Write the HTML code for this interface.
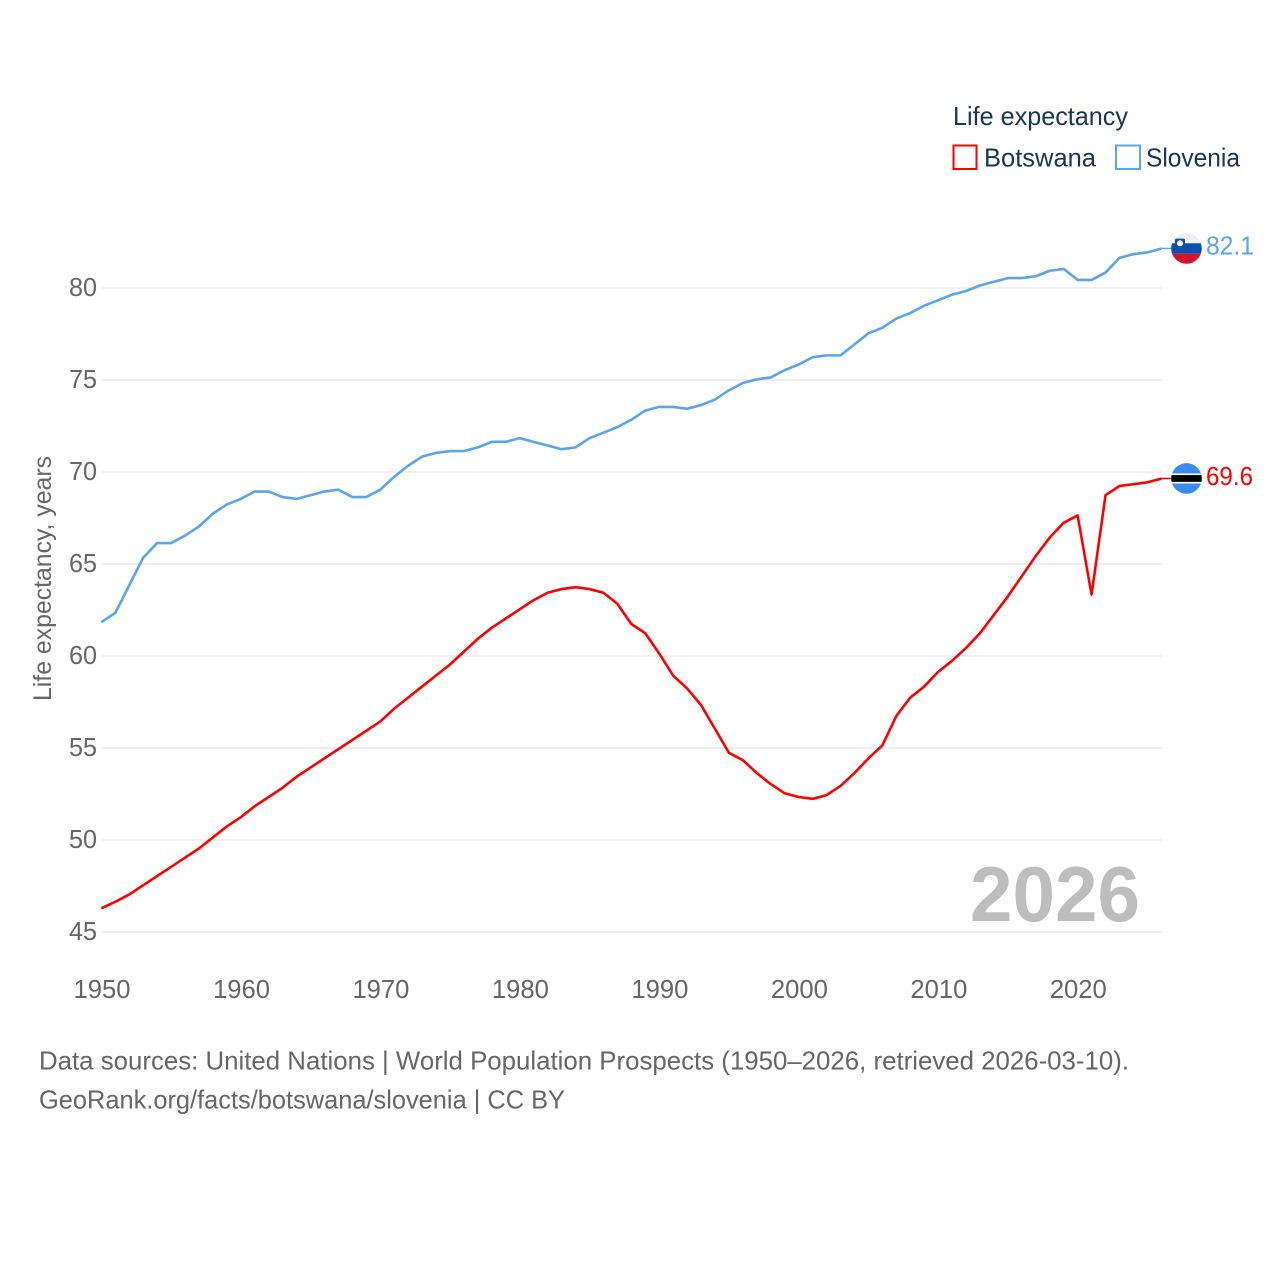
<!DOCTYPE html>
<html lang="en">
<head>
<meta charset="utf-8">
<title>Life expectancy: Botswana and Slovenia</title>
<style>
  html, body { margin: 0; padding: 0; background: #fff; }
  svg { display: block; font-family: "Liberation Sans", sans-serif; }
</style>
</head>
<body>
<svg id="chart" width="1280" height="1280" viewBox="0 0 1280 1280" xmlns="http://www.w3.org/2000/svg">
  <defs>
    <clipPath id="clip-si"><circle id="clip-si-c" r="15.3"></circle></clipPath>
    <clipPath id="clip-bw"><circle id="clip-bw-c" r="15.3"></circle></clipPath>
  </defs>
  <rect width="1280" height="1280" fill="#fff"></rect>

  <g id="grid"></g>
  <g id="y-ticks"></g>
  <g id="x-ticks"></g>

  <text transform="translate(51 701) rotate(-90)" font-size="25" fill="#666" textLength="245" lengthAdjust="spacingAndGlyphs">Life expectancy, years</text>

  <text x="970" y="921" font-size="78" font-weight="700" fill="#bdbdbd" textLength="170" lengthAdjust="spacingAndGlyphs">2026</text>

  <g id="series" transform="translate(-0.7 -0.7)"></g>
  <g id="ends"></g>

  <g>
    <text x="953" y="125" font-size="26" fill="#1a3558" textLength="175" lengthAdjust="spacingAndGlyphs">Life expectancy</text>
    <g>
      <rect x="953.5" y="145.5" width="23" height="23.5" fill="none" stroke="#ff0000" stroke-width="2"></rect>
      <text x="984" y="166.5" font-size="26" fill="#1a3558" textLength="112" lengthAdjust="spacingAndGlyphs">Botswana</text>
    </g>
    <g>
      <rect x="1116" y="145.5" width="24" height="23.5" fill="none" stroke="#5ba4ee" stroke-width="2"></rect>
      <text x="1146" y="166.5" font-size="26" fill="#1a3558" textLength="94" lengthAdjust="spacingAndGlyphs">Slovenia</text>
    </g>
  </g>

  <g>
    <text x="39" y="1069.5" font-size="26" fill="#666" textLength="1090" lengthAdjust="spacingAndGlyphs">Data sources: United Nations | World Population Prospects (1950–2026, retrieved 2026-03-10).</text>
    <text x="39" y="1108.5" font-size="26" fill="#666" textLength="526" lengthAdjust="spacingAndGlyphs">GeoRank.org/facts/botswana/slovenia | CC BY</text>
  </g>
</svg>

<script>
const years = [1950,1951,1952,1953,1954,1955,1956,1957,1958,1959,1960,1961,1962,1963,1964,1965,1966,1967,1968,1969,1970,1971,1972,1973,1974,1975,1976,1977,1978,1979,1980,1981,1982,1983,1984,1985,1986,1987,1988,1989,1990,1991,1992,1993,1994,1995,1996,1997,1998,1999,2000,2001,2002,2003,2004,2005,2006,2007,2008,2009,2010,2011,2012,2013,2014,2015,2016,2017,2018,2019,2020,2021,2022,2023,2024,2025,2026];
const botswana = [46.25,46.6,47.0,47.5,48.0,48.5,49.0,49.5,50.1,50.7,51.2,51.8,52.3,52.8,53.4,53.9,54.4,54.9,55.4,55.9,56.4,57.1,57.7,58.3,58.9,59.5,60.2,60.9,61.5,62.0,62.5,63.0,63.4,63.6,63.7,63.6,63.4,62.8,61.7,61.2,60.1,58.9,58.2,57.3,56.0,54.7,54.3,53.6,53.0,52.5,52.3,52.2,52.4,52.9,53.6,54.4,55.1,56.7,57.7,58.3,59.1,59.7,60.4,61.2,62.2,63.2,64.3,65.4,66.4,67.2,67.6,63.3,68.7,69.2,69.3,69.4,69.6];
const slovenia = [61.8,62.3,63.8,65.3,66.1,66.1,66.5,67.0,67.7,68.2,68.5,68.9,68.9,68.6,68.5,68.7,68.9,69.0,68.6,68.6,69.0,69.7,70.3,70.8,71.0,71.1,71.1,71.3,71.6,71.6,71.8,71.6,71.4,71.2,71.3,71.8,72.1,72.4,72.8,73.3,73.5,73.5,73.4,73.6,73.9,74.4,74.8,75.0,75.1,75.5,75.8,76.2,76.3,76.3,76.9,77.5,77.8,78.3,78.6,79.0,79.3,79.6,79.8,80.1,80.3,80.5,80.5,80.6,80.9,81.0,80.4,80.4,80.8,81.6,81.8,81.9,82.1];
const yTickValues = [45,50,55,60,65,70,75,80];
const xTickValues = [1950,1960,1970,1980,1990,2000,2010,2020];

const NS = 'http://www.w3.org/2000/svg';
const plotLeft = 102, plotRight = 1162, plotTop = 288, plotBottom = 932;
const xDomain = [1950, 2026], yDomain = [45, 80];
function xScale(v) { return plotLeft + (v - xDomain[0]) * (plotRight - plotLeft) / (xDomain[1] - xDomain[0]); }
function yScale(v) { return plotBottom - (v - yDomain[0]) * (plotBottom - plotTop) / (yDomain[1] - yDomain[0]); }
function mk(tag, parent, attrs) {
  const el = document.createElementNS(NS, tag);
  for (const k in attrs) el.setAttribute(k, attrs[k]);
  parent.appendChild(el);
  return el;
}
function linePoints(values) {
  return values.map(function (v, i) { return xScale(years[i]).toFixed(2) + ',' + yScale(v).toFixed(2); }).join(' ');
}

const gridG = document.getElementById('grid');
const yG = document.getElementById('y-ticks');
yTickValues.forEach(function (v) {
  const gl = mk('line', gridG, { x1: plotLeft, x2: plotRight, y1: yScale(v), y2: yScale(v), stroke: '#eeeeee', 'stroke-width': 1.8 });
  
  
  const t = mk('text', yG, { x: 97, y: yScale(v) + 8, 'text-anchor': 'end', 'font-size': 26, fill: '#666', textLength: 28, lengthAdjust: 'spacingAndGlyphs' });
  t.textContent = String(v);
  
  
});

const xG = document.getElementById('x-ticks');
xTickValues.forEach(function (v) {
  const t = mk('text', xG, { x: xScale(v), y: 998, 'text-anchor': 'middle', 'font-size': 26, fill: '#666', textLength: 57, lengthAdjust: 'spacingAndGlyphs' });
  t.textContent = String(v);
  
  
});

const seriesG = document.getElementById('series');
const slLine = mk('polyline', seriesG, { points: linePoints(slovenia), fill: 'none', stroke: '#5ba4ee', 'stroke-width': 2.6, 'stroke-linejoin': 'round' });


const bwLine = mk('polyline', seriesG, { points: linePoints(botswana), fill: 'none', stroke: '#ff0000', 'stroke-width': 2.6, 'stroke-linejoin': 'round' });



const endsG = document.getElementById('ends');
const flagX = 1186.5;

// Slovenia end marker
const siLast = slovenia[slovenia.length - 1];
const siY = yScale(siLast) - 0.9;
const siConn = mk('line', endsG, { x1: plotRight - 1, x2: flagX - 15, y1: siY, y2: siY, stroke: '#5ba4ee', 'stroke-width': 1.5 });


document.getElementById('clip-si-c').setAttribute('cx', flagX);
document.getElementById('clip-si-c').setAttribute('cy', siY);
const siFlag = mk('g', endsG, { 'clip-path': 'url(#clip-si)' });


mk('rect', siFlag, { x: flagX - 16, y: siY - 16, width: 32, height: 11, fill: '#f0f0f0' });
mk('rect', siFlag, { x: flagX - 16, y: siY - 5.2, width: 32, height: 10.4, fill: '#0c4fae' });
mk('rect', siFlag, { x: flagX - 16, y: siY + 5.2, width: 32, height: 11, fill: '#d8102f' });
mk('rect', siFlag, { x: flagX - 11.5, y: siY - 9.8, width: 10, height: 9, rx: 1.5, fill: '#0c4fae' });
mk('circle', siFlag, { cx: flagX - 6.5, cy: siY - 5.2, r: 3, fill: '#ffffff' });
const siVal = mk('text', endsG, { x: 1206, y: siY + 6, 'font-size': 26, fill: '#5ba4ee', textLength: 48, lengthAdjust: 'spacingAndGlyphs' });
siVal.textContent = siLast.toFixed(1);



// Botswana end marker
const bwLast = botswana[botswana.length - 1];
const bwY = yScale(bwLast) - 0.9;
const bwConn = mk('line', endsG, { x1: plotRight - 1, x2: flagX - 15, y1: bwY, y2: bwY, stroke: '#ff0000', 'stroke-width': 1.5 });


document.getElementById('clip-bw-c').setAttribute('cx', flagX);
document.getElementById('clip-bw-c').setAttribute('cy', bwY);
const bwFlag = mk('g', endsG, { 'clip-path': 'url(#clip-bw)' });


mk('rect', bwFlag, { x: flagX - 16, y: bwY - 16, width: 32, height: 32, fill: '#3a8df0' });
mk('rect', bwFlag, { x: flagX - 16, y: bwY - 5, width: 32, height: 10, fill: '#ffffff' });
mk('rect', bwFlag, { x: flagX - 16, y: bwY - 3.4, width: 32, height: 6.8, fill: '#000000' });
const bwVal = mk('text', endsG, { x: 1206, y: bwY + 6.5, 'font-size': 26, fill: '#ff0000', textLength: 47, lengthAdjust: 'spacingAndGlyphs' });
bwVal.textContent = bwLast.toFixed(1);


</script>
</body>
</html>
